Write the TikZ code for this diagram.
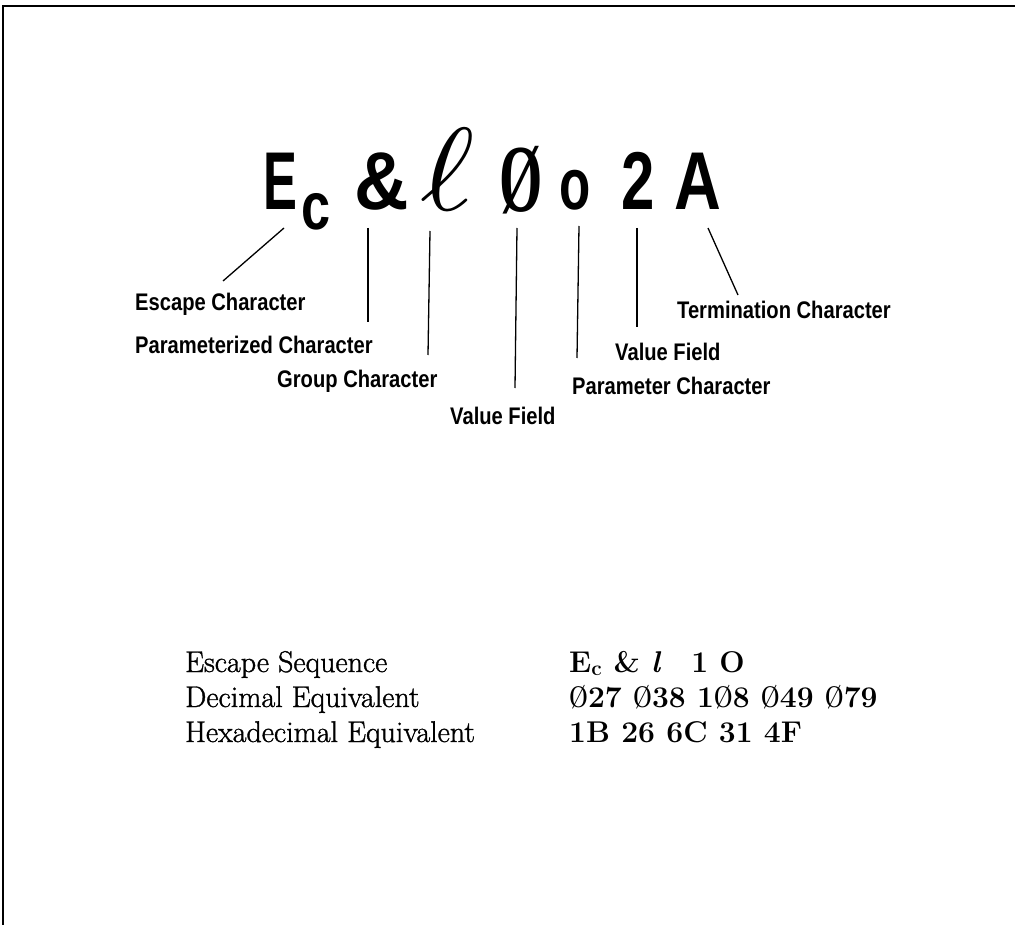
\documentclass[tikz,border=0pt]{standalone}
\usepackage{fontspec}
\usepackage{tikz}
\newfontfamily\glyphsans{Liberation Sans}
\newfontfamily\glyphserif{Liberation Serif}
\newfontfamily\labelsans[FakeStretch=0.84]{Liberation Sans}
\newfontfamily\rowserif[FakeBold=1.2]{Latin Modern Roman}
\newcommand\slz{\scalebox{0.72}[1]{Ø}}
\tikzset{
  glyph/.style={inner sep=0pt,anchor=base,font=\glyphsans\bfseries\fontsize{82}{82}\selectfont},
  tag/.style={inner sep=0pt,anchor=base west,font=\labelsans\bfseries\fontsize{24}{24}\selectfont},
  leader/.style={draw,line width=1.3pt},
  rowtext/.style={inner sep=0pt,anchor=base west,font=\rowserif\fontsize{30}{30}\selectfont},
  rowcode/.style={inner sep=0pt,anchor=base west,font=\bfseries\fontsize{30}{30}\selectfont},
  frame/.style={draw,line width=1.5pt}
}
\begin{document}
\begin{tikzpicture}[x=1pt,y=-1pt]
  \useasboundingbox (0,0) rectangle (1015,925);
  \draw[frame] (1015,6) -- (3,6) -- (3,925);
  % the sequence
  \node[glyph] (esc) at (280,210) {\scalebox{0.62}[1]{E}};
  \node[glyph,font=\glyphsans\bfseries\fontsize{67}{67}\selectfont] (escsub) at (316,230) {\scalebox{0.78}[1]{c}};
  \node[glyph] (amp) at (382,210) {\scalebox{0.92}[1]{\&}};
  \node[glyph,font=\fontsize{10}{12}\selectfont] (grp) at (448,211) {\scalebox{13}[11.8]{$\ell$}};
  \node[glyph,font=\glyphserif\bfseries\fontsize{96}{96}\selectfont] (zero) at (521,212) {\scalebox{0.58}[1]{Ø}};
  \node[glyph,font=\glyphsans\bfseries\fontsize{73}{73}\selectfont] (par) at (575,210) {\scalebox{0.7}[1]{o}};
  \node[glyph] (two) at (638,210) {\scalebox{0.73}[1]{2}};
  \node[glyph] (term) at (698,210) {\scalebox{0.79}[1]{A}};
  % leader ends
  \coordinate (esc-a) at (284,228);  \coordinate (esc-b) at (223,281);
  \coordinate (amp-a) at (368,228);  \coordinate (amp-b) at (368,322);
  \coordinate (grp-a) at (430,231);  \coordinate (grp-b) at (428,355);
  \coordinate (zero-a) at (517,228); \coordinate (zero-b) at (515,388);
  \coordinate (par-a) at (579,226);  \coordinate (par-b) at (577,358);
  \coordinate (two-a) at (637,228);  \coordinate (two-b) at (637,327);
  \coordinate (term-a) at (708,228); \coordinate (term-b) at (738,295);
  \foreach \n in {esc,amp,grp,zero,par,two,term}
    \draw[leader] (\n-a) -- (\n-b);
  % labels
  \node[tag] (esctag) at (135,311) {Escape Character};
  \node[tag] (amptag) at (135,353) {Parameterized Character};
  \node[tag] (grptag) at (277,388) {Group Character};
  \node[tag] (zerotag) at (450,424) {Value Field};
  \node[tag] (termtag) at (677,319) {Termination Character};
  \node[tag] (twotag) at (615,360) {Value Field};
  \node[tag] (partag) at (572,394) {Parameter Character};
  % table of equivalents
  \node[rowtext] (seq) at (185,672) {Escape Sequence};
  \node[rowtext] (dec) at (185,707) {Decimal Equivalent};
  \node[rowtext] (hex) at (185,742) {Hexadecimal Equivalent};
  \node[rowcode] (seqval) at (569,672) {E\textsubscript{c} \& \textit{l}\quad 1 O};
  \node[rowcode] (decval) at (569,707) {\slz27 \slz38 1\slz8 \slz49 \slz79};
  \node[rowcode] (hexval) at (569,742) {1B 26 6C 31 4F};
\end{tikzpicture}
\end{document}
